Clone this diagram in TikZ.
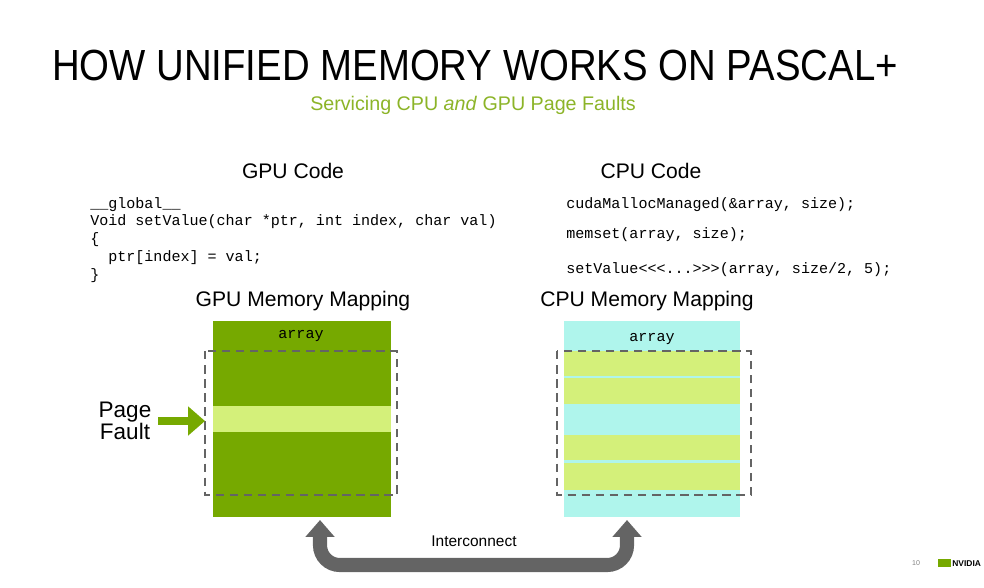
\documentclass[tikz,border=0pt]{standalone}
\usepackage{fontspec}
\setmainfont{Liberation Sans}
\setmonofont{Liberation Mono}
\usetikzlibrary{arrows.meta}
\definecolor{nvgreen}{RGB}{118,169,0}
\definecolor{subgreen}{RGB}{140,180,40}
\definecolor{pagelight}{RGB}{212,240,122}
\definecolor{cpucyan}{RGB}{175,245,236}
\definecolor{linkgray}{RGB}{100,100,100}

\begin{document}
\begin{tikzpicture}[x=0.025cm, y=-0.025cm]
	\tikzstyle{code}=[anchor=west, inner sep=0, font=\ttfamily\fontsize{10.7}{12}\selectfont]
	\tikzstyle{head}=[font=\fontsize{15}{18}\selectfont]
	\tikzstyle{frame}=[draw=linkgray, dashed, line width=1.2pt, dash pattern=on 6pt off 4pt]
	\useasboundingbox (0,0) rectangle (984,587);
	\node[font=\fontsize{31}{36}\selectfont](title) at (475,65){\scalebox{0.88}[1]{HOW UNIFIED MEMORY WORKS ON PASCAL+}};
	\node[text=subgreen, font=\fontsize{14}{17}\selectfont](subtitle) at (473,105){Servicing CPU \textit{and} GPU Page Faults};
	
	\node[head](gpu-code) at (293,171){GPU Code};
	\node[head](cpu-code) at (651,171){CPU Code};
	
	\node[code](g-1) at (90,205){\_\_global\_\_};
	\node[code](g-2) at (90,222){Void setValue(char *ptr, int index, char val)};
	\node[code](g-3) at (90,240){\{};
	\node[code](g-4) at (90,258){\ \ ptr[index] = val;};
	\node[code](g-5) at (90,276){\}};
	
	\node[code](c-1) at (566,205){cudaMallocManaged(\&array, size);};
	\node[code](c-2) at (566,235){memset(array, size);};
	\node[code](c-3) at (566,270){setValue<{}<{}<...>{}>{}>(array, size/2, 5);};
	
	\node[head](gpu-map) at (303,301){GPU Memory Mapping};
	\node[head](cpu-map) at (647,301){CPU Memory Mapping};
	
	% GPU side
	\fill[nvgreen] (213,321) rectangle (391,517);
	\fill[pagelight] (213,406) rectangle (391,432);
	\node[code, anchor=center](gpu-array) at (301,336){array};
	\draw[frame] (205,351) rectangle (397,495);
	\coordinate (gpu-in) at (320,520);
	
	% CPU side
	\fill[cpucyan] (564,321) rectangle (740,517);
	\foreach \a/\b in {351/376, 378/404, 435/460, 463/490}
	\fill[pagelight] (564,\a) rectangle (740,\b);
	\node[code, anchor=center](cpu-array) at (652,339){array};
	\draw[frame] (557,351) rectangle (751,495);
	\coordinate (cpu-in) at (627,520);
	
	\node[font=\fontsize{16}{18}\selectfont, align=center](fault) at (125,421){Page\\[-2pt]Fault};
	\coordinate (fault-end) at (205,421);
	\draw[nvgreen, line width=6pt, -{Triangle[length=12pt, width=20pt]}] (fault.east) ++(2,0) -- (fault-end);
	
	\draw[linkgray, line width=10pt, rounded corners=14pt, {Triangle[length=12pt, width=20pt]}-{Triangle[length=12pt, width=20pt]}] (gpu-in) |- (473,565) -| (cpu-in);
	\node[font=\fontsize{11}{13}\selectfont](link) at (474,541){Interconnect};
	
	\node[text=gray, font=\fontsize{5}{6}\selectfont](page) at (916,563){10};
	\node[font=\bfseries\fontsize{6}{7}\selectfont, anchor=west, inner sep=0](brand) at (938,563){\textcolor{nvgreen}{\rule{9pt}{5pt}}\,NVIDIA};
\end{tikzpicture}
\end{document}
